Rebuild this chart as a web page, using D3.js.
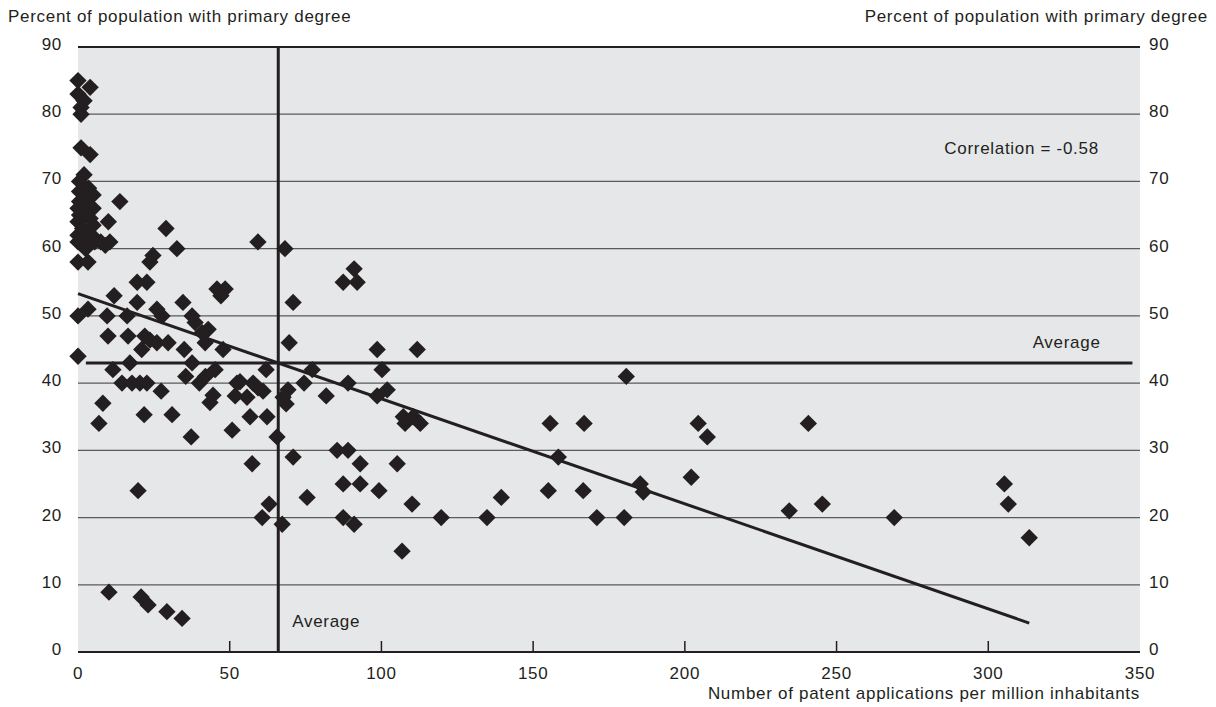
<!DOCTYPE html>
<html>
<head>
<meta charset="utf-8">
<script src="https://cdn.jsdelivr.net/npm/d3@7"></script>
<style>
  body { margin: 0; background: #fff; }
  text { font-family: "Liberation Sans", Arial, sans-serif; fill: #231f20; letter-spacing: 0.7px; }
</style>
</head>
<body>
<svg id="chart" width="1216" height="707"></svg>
<script>
// patents per million inhabitants (x) vs percent with primary degree (y)
const patents = [0,4,0,2,1,1,1,4,2,0.5,3.5,0.5,5,0.5,2.5,0,5,0.5,2.5,0,4,10,1.5,5,0,2.5,4.5,0,5.5,7.5,9,10.5,2.5,0,3.3,
  13.8,29,32.6,59.3,68.2,91,87.4,92,24.7,23.7,19.5,22.7,11.9,0,3.3,9.6,16.2,19.5,26,27.7,34.6,45.8,48.5,47.1,37.6,38.6,
  42.9,40.9,41.9,9.9,16.5,22,23.7,21,26,29.7,35,47.8,0,69.6,70.9,98.6,111.8,11.5,17.1,37.6,45.2,62,77.2,100.2,
  14.5,17.8,20.4,22.7,35.5,40,42,52.4,53.4,57.7,59.3,61,74.5,89,44.5,43.5,51.8,55.7,67.6,69.2,68.6,81.8,98.6,101.9,
  56.7,62.3,50.8,65.6,107.2,110.5,107.8,112.8,85.4,89,93,105.2,57.4,70.9,87.4,93,99.2,110.1,75.5,63,60.7,87.4,91,67.3,
  19.8,6.9,8.2,37.3,31,21.8,27.4,119.7,134.8,139.5,106.8,180.7,155.6,166.8,158.3,155,166.5,185.3,186.3,171,180,
  204.4,207.4,240.7,202.1,234.4,245.3,269,305.3,306.6,313.5,10.2,20.8,23.1,29.3,34.3];
const primary = [85,84,83,82,81,80,75,74,71,70,69,68.5,68,67,67,66,66,65,65,64,64.5,64,63,63.5,62,62,62,61,61,61,60.5,61,60,58,58,
  67,63,60,61,60,57,55,55,59,58,55,55,53,50,51,50,50,52,51,50,52,54,54,53,50,49,
  48,47.5,46,47,47,47,46.4,45,46,46,45,45,44,46,52,45,45,42,43,43,42,42,42,42,
  40,40,40,40,41,40,41,40,40.2,40,39.3,38.8,40,40,38.2,37.1,38.1,37.9,37.9,39,36.9,38.1,38.1,39,
  35,35,33,32,35,35,34,34,30,30,28,28,28,29,25,25,24,22,23,22,20,20,19,19,
  24,34,37,32,35.3,35.3,38.8,20,20,23,15,41,34,34,29,24,24,25,23.8,20,20,
  34,32,34,26,21,22,20,25,22,17,8.9,8.2,7,6,5];

const xTicks = [0, 50, 100, 150, 200, 250, 300, 350];
const yTicks = [0, 10, 20, 30, 40, 50, 60, 70, 80, 90];
const averagePatents = 66;
const averagePrimary = 43;
const trendX = [0, 313.5];
const trendY = [53.3, 4.3];
const correlationLabel = "Correlation = -0.58";

const svg = d3.select("#chart");
const margin = { left: 78, right: 76, top: 47, bottom: 55 };
const width = 1216 - margin.left - margin.right;
const height = 707 - margin.top - margin.bottom;

const x = d3.scaleLinear().domain([0, 350]).range([0, width]);
const y = d3.scaleLinear().domain([0, 90]).range([height, 0]);

const g = svg.append("g").attr("transform", `translate(${margin.left},${margin.top})`);

g.append("rect").attr("width", width).attr("height", height).attr("fill", "#e6e7e8");

// horizontal grid
g.selectAll(".grid")
  .data(yTicks.filter((d) => d > 0 && d < 90))
  .join("line")
  .attr("x1", 0).attr("x2", width)
  .attr("y1", (d) => y(d)).attr("y2", (d) => y(d))
  .attr("stroke", "#5a5a5a").attr("stroke-width", 1.2);

g.append("line").attr("x1", 0).attr("x2", width).attr("y1", y(90)).attr("y2", y(90))
  .attr("stroke", "#231f20").attr("stroke-width", 2);

// x axis with inside ticks
g.append("line").attr("x1", 0).attr("x2", width).attr("y1", height).attr("y2", height)
  .attr("stroke", "#231f20").attr("stroke-width", 2);
g.selectAll(".xt")
  .data(xTicks.filter((d) => d > 0 && d < 350))
  .join("line")
  .attr("x1", (d) => x(d)).attr("x2", (d) => x(d))
  .attr("y1", height).attr("y2", height - 11)
  .attr("stroke", "#231f20").attr("stroke-width", 1.5);
g.selectAll(".xl")
  .data(xTicks)
  .join("text")
  .attr("x", (d) => x(d)).attr("y", height + 27)
  .attr("text-anchor", "middle").style("font-size", "17px")
  .text((d) => d);

// y labels both sides
g.selectAll(".yl")
  .data(yTicks)
  .join("text")
  .attr("x", -16).attr("y", (d) => y(d) + 3)
  .attr("text-anchor", "end").style("font-size", "17px")
  .text((d) => d);
g.selectAll(".yr")
  .data(yTicks)
  .join("text")
  .attr("x", width + 9).attr("y", (d) => y(d) + 3)
  .attr("text-anchor", "start").style("font-size", "17px")
  .text((d) => d);

// averages
g.append("line")
  .attr("x1", x(averagePatents)).attr("x2", x(averagePatents))
  .attr("y1", 0).attr("y2", height)
  .attr("stroke", "#231f20").attr("stroke-width", 3);
g.append("line")
  .attr("x1", x(2.6)).attr("x2", x(347.5))
  .attr("y1", y(averagePrimary)).attr("y2", y(averagePrimary))
  .attr("stroke", "#231f20").attr("stroke-width", 3);

// trend line
g.append("line")
  .attr("x1", x(trendX[0])).attr("y1", y(trendY[0]))
  .attr("x2", x(trendX[1])).attr("y2", y(trendY[1]))
  .attr("stroke", "#231f20").attr("stroke-width", 3);

// points
const diamond = d3.symbol().type(d3.symbolSquare).size(150);
g.selectAll(".pt")
  .data(patents.map((p, i) => [p, primary[i]]))
  .join("path")
  .attr("d", diamond)
  .attr("transform", (d) => `translate(${x(d[0])},${y(d[1])}) rotate(45)`)
  .attr("fill", "#231f20");

// annotations
g.append("text").attr("x", x(285.5)).attr("y", y(75) + 6)
  .style("font-size", "17px").attr("text-anchor", "start").text(correlationLabel);
g.append("text").attr("x", x(337)).attr("y", y(averagePrimary) - 15)
  .style("font-size", "17px").attr("text-anchor", "end").text("Average");
g.append("text").attr("x", x(averagePatents) + 14).attr("y", y(4) + 2)
  .style("font-size", "17px").text("Average");

// titles
svg.append("text").attr("x", 8).attr("y", 22).style("font-size", "17px")
  .text("Percent of population with primary degree");
svg.append("text").attr("x", 1208).attr("y", 22).attr("text-anchor", "end").style("font-size", "17px")
  .text("Percent of population with primary degree");
svg.append("text").attr("x", margin.left + width).attr("y", 699).attr("text-anchor", "end").style("font-size", "17px")
  .text("Number of patent applications per million inhabitants");
</script>
</body>
</html>
